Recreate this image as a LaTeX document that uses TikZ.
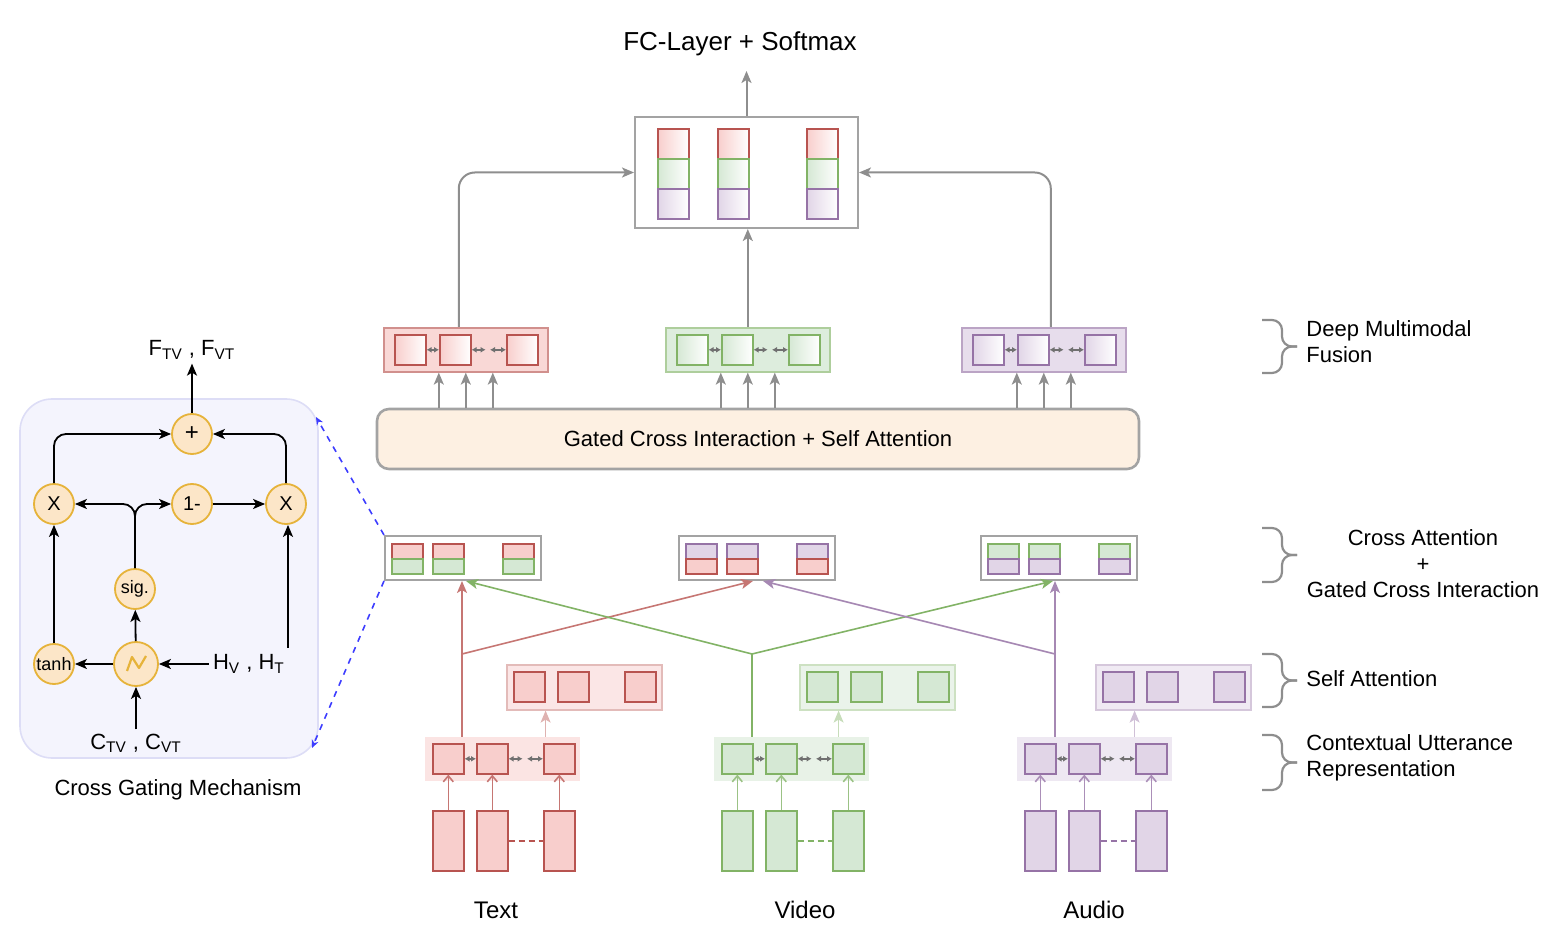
\documentclass[tikz,border=0pt]{standalone}
\usepackage{fontspec}
\setmainfont{Liberation Sans}
\usetikzlibrary{arrows.meta,calc}

\definecolor{tred}{HTML}{B85450}
\definecolor{fred}{HTML}{F8CECC}
\definecolor{tgreen}{HTML}{82B366}
\definecolor{fgreen}{HTML}{D5E8D4}
\definecolor{tpurple}{HTML}{9673A6}
\definecolor{fpurple}{HTML}{E1D5E7}
\definecolor{linegray}{HTML}{8E8E8E}
\definecolor{linkgray}{HTML}{707070}
\definecolor{boxgray}{HTML}{A3A3A3}
\definecolor{peach}{HTML}{FDF0E2}
\definecolor{gold}{HTML}{E6B33A}
\definecolor{goldfill}{HTML}{FCE6C8}
\definecolor{lavfill}{HTML}{F4F4FD}
\definecolor{lavline}{HTML}{DDDDF6}
\definecolor{zoomblue}{HTML}{3D3DFF}

\begin{document}
\begin{tikzpicture}[x=0.5pt,y=-0.5pt,
    every node/.style={font=\fontsize{11}{13}\selectfont, inner sep=2pt},
    cell/.style={draw=#1, line width=0.8pt, inner sep=0pt, anchor=north west,
      minimum width=15.5pt, minimum height=15pt},
    half/.style={cell=#1, minimum height=7.5pt},
    bar/.style={cell=#1, minimum height=30pt},
    layer/.style={inner sep=0pt, anchor=north west, minimum width=77.5pt, minimum height=22pt},
    grayarr/.style={draw=linegray, line width=1pt, -{Stealth[length=6pt,width=5pt,inset=1.5pt]}},
    colarr/.style={draw=#1, line width=0.8pt, -{Stealth[length=6pt,width=5pt,inset=1.5pt]}},
    barb/.style={draw=#1, line width=0.8pt, -{Straight Barb[length=3pt,width=5pt]}},
    link/.style={draw=linkgray, line width=0.9pt, {Latex[length=2.5pt,width=3pt]}-{Latex[length=2.5pt,width=3pt]}},
    gate/.style={circle, draw=gold, fill=goldfill, line width=0.9pt, minimum size=20pt,
      inner sep=0pt, font=\fontsize{10}{12}\selectfont},
    blk/.style={line width=0.9pt, -{Stealth[length=6pt,width=5pt,inset=1.5pt]}},
    bracket/.style={draw=linegray, line width=1.1pt, rounded corners=5pt},
    zoomline/.style={draw=zoomblue, dashed, line width=0.8pt, -{Stealth[length=4pt,width=3.5pt]}},
  ]
  \useasboundingbox (0,0) rectangle (1560,946);

  % Fusion
  \node[draw=boxgray, line width=1pt, minimum width=111.5pt, minimum height=55.5pt, inner sep=0pt] (fus) at (746.5,172.5) {};
  \foreach \x [count=\i] in {657,717,806}{
    \foreach \col [count=\j] in {red,green,purple}
      \node[cell=t\col, left color=f\col, right color=white] (fus-\i-\j) at (\x,98+30*\j) {};
  }
  \node[font=\fontsize{13}{15}\selectfont] (fc) at (740,44) {FC-Layer + Softmax};
  \draw[grayarr] (fus.north) -- ++(0,-45);

  % Deep multimodal fusion
  \foreach \m/\col/\dx in {t/red/394, v/green/676, a/purple/972}{
    \node[layer, draw=t\col!65, fill=f\col!80, line width=0.8pt, minimum width=82pt] (dmf-\m) at (\dx-11,327) {};
    \foreach \off [count=\i] in {0,45,112}
      \node[cell=t\col, left color=f\col, right color=white] (dmf-\m-\i) at (\dx+\off,334) {};
    \draw[link] (dmf-\m-1) -- (dmf-\m-2);
    \draw[link] (dmf-\m-2.east) -- ++(14,0);
    \draw[link] (dmf-\m-3.west) -- ++(-16,0);
  }
  \draw[grayarr, rounded corners=8pt] ([xshift=-3.5pt]dmf-t.north) |- (fus.west);
  \draw[grayarr, rounded corners=8pt] ([xshift=3.5pt]dmf-a.north) |- (fus.east);
  \draw[grayarr] (dmf-v.north) -- (dmf-v.north |- fus.south);

  % Gated cross interaction
  \node[draw=boxgray, line width=1.3pt, fill=peach, rounded corners=6pt, minimum width=381pt,
    minimum height=30pt] (gci) at (758,439) {Gated Cross Interaction + Self Attention};
  \foreach \m in {t,v,a}
    \foreach \s in {-27,0,27}{
      \coordinate (g) at ($(dmf-\m.south)+(\s,0)$);
      \draw[grayarr] (gci.north -| g) -- (g);
    }

  % Cross attention
  \foreach \m/\up/\lo/\cx in {t/red/green/391, v/purple/red/685, a/green/purple/987}{
    \node[layer, draw=boxgray, line width=1pt, minimum width=78pt] (ca-\m) at (\cx-7,535) {};
    \foreach \off [count=\i] in {0,41,111}{
      \node[half=t\up, fill=f\up] (ca-\m-\i) at (\cx+\off,543) {};
      \node[half=t\lo, fill=f\lo] (cb-\m-\i) at (\cx+\off,558) {};
    }
  }

  % Inputs, contextual utterance and self attention
  \foreach \m/\col/\bx/\sx in {t/red/432/513, v/green/721/806, a/purple/1024/1102}{
    \node[layer, fill=f\col!55] (cu-\m) at (\bx-7,737) {};
    \node[layer, draw=t\col!40, fill=f\col!50, line width=0.8pt, minimum height=22.5pt] (sa-\m) at (\sx-7,664) {};
    \foreach \off [count=\i] in {0,44,111}{
      \node[cell=t\col, fill=f\col] (cu-\m-\i) at (\bx+\off,743) {};
      \node[cell=t\col, fill=f\col] (sa-\m-\i) at (\sx+\off,671) {};
      \node[bar=t\col, fill=f\col] (in-\m-\i) at (\bx+\off,810) {};
      \draw[barb=t\col!80] (in-\m-\i) -- (cu-\m-\i);
    }
    \draw[link] (cu-\m-1) -- (cu-\m-2);
    \draw[link] (cu-\m-2.east) -- ++(14,0);
    \draw[link] (cu-\m-3.west) -- ++(-16,0);
    \draw[densely dashed, t\col, line width=0.7pt] (in-\m-2) -- (in-\m-3);
    \draw[colarr=t\col!45] (cu-\m.north -| sa-\m-1.east) -- (sa-\m.south -| sa-\m-1.east);
  }
  \node[font=\fontsize{12}{14}\selectfont] (lbl-t) at (496,910) {Text};
  \node[font=\fontsize{12}{14}\selectfont] (lbl-v) at (805,910) {Video};
  \node[font=\fontsize{12}{14}\selectfont] (lbl-a) at (1094,910) {Audio};

  % Cross connections
  \coordinate (br-t) at (462,654);
  \coordinate (br-v) at (752,654);
  \coordinate (br-a) at (1055,654);
  \draw[colarr=tred!80] (cu-t.north -| br-t) -- (br-t) -- (ca-t.south -| br-t);
  \draw[colarr=tred!80] (br-t) -- ([xshift=-2pt]ca-v.south);
  \draw[colarr=tgreen] (cu-v.north -| br-v) -- (br-v) -- ([xshift=1.5pt]ca-t.south);
  \draw[colarr=tgreen] (br-v) -- ([xshift=-3pt]ca-a.south);
  \draw[colarr=tpurple!85] (cu-a.north -| br-a) -- (br-a) -- (ca-a.south -| br-a);
  \draw[colarr=tpurple!85] (br-a) -- ([xshift=3pt]ca-v.south);

  % Layer labels
  \foreach \yt/\yb in {320/373, 528/582, 654/707, 735/790}{
    \pgfmathsetmacro\ym{(\yt+\yb)/2}
    \draw[bracket] (1262,\yt) -| (1282,\ym) -- (1297,\ym);
    \draw[bracket] (1262,\yb) -| (1282,\ym) -- (1297,\ym);
  }
  \node[anchor=west, align=left] (lbl-dmf) at (1302,342) {Deep Multimodal\\Fusion};
  \node[align=center] (lbl-ca) at (1423,564) {Cross Attention\\+\\Gated Cross Interaction};
  \node[anchor=west] (lbl-sa) at (1302,679) {Self Attention};
  \node[anchor=west, align=left] (lbl-cu) at (1302,758) {Contextual Utterance\\Representation};

  % Cross gating mechanism
  \node[draw=lavline, fill=lavfill, line width=0.8pt, rounded corners=16pt, minimum width=149pt,
    minimum height=179.5pt] (cgm) at (169,578.5) {};
  \node[gate, font=\fontsize{12}{14}\selectfont] (plus) at (192,434) {+};
  \node[gate] (xl) at (54,504) {X};
  \node[gate] (one) at (192,504) {1-};
  \node[gate] (xr) at (286,504) {X};
  \node[gate, font=\fontsize{9}{10}\selectfont] (sig) at (135,589) {sig.};
  \node[gate, font=\fontsize{9}{10}\selectfont] (tanh) at (54,664) {tanh};
  \node[gate, minimum size=22pt] (act) at (136,664) {};
  \draw[gold, line width=1.1pt, line join=round] ($(act)+(-9,7)$) -- ++(5,-14) -- ++(7,11) -- ++(7,-12);
  \node (lblF) at (192,350) {F\textsubscript{TV} , F\textsubscript{VT}};
  \node (lblH) at (249,664) {H\textsubscript{V} , H\textsubscript{T}};
  \node (lblC) at (136,743) {C\textsubscript{TV} , C\textsubscript{VT}};
  \node (cgm-title) at (178,790) {Cross Gating Mechanism};
  \draw[blk] (plus) -- (lblF);
  \draw[blk] (lblC) -- (act);
  \draw[blk] (lblH) -- (act);
  \draw[blk] (act) -- (tanh);
  \draw[blk] (act) -- (sig);
  \draw[blk] (tanh) -- (xl);
  \draw[blk, rounded corners=6pt] (sig.north) |- (xl);
  \draw[blk, rounded corners=6pt] (sig.north) |- (one);
  \draw[blk] (one) -- (xr);
  \draw[blk, rounded corners=6pt] (xl.north) |- (plus);
  \draw[blk, rounded corners=6pt] (xr.north) |- (plus);
  \coordinate (hx) at (288,648);
  \draw[blk] (hx) -- (hx |- xr.south);

  % Zoom lines
  \coordinate (cz1) at (316,417);
  \coordinate (cz2) at (312,748);
  \draw[zoomline] (ca-t.north west) -- (cz1);
  \draw[zoomline] (ca-t.south west) -- (cz2);
\end{tikzpicture}
\end{document}
